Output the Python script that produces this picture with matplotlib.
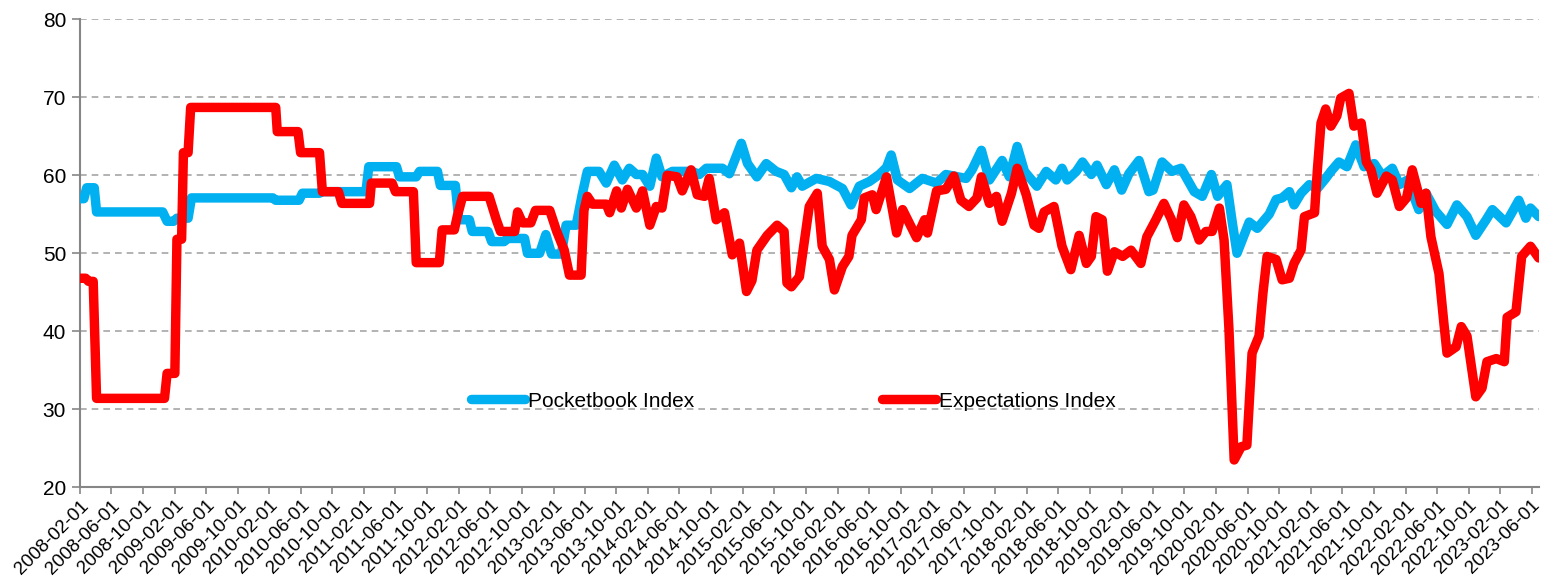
import pandas as pd
import matplotlib.pyplot as plt
import matplotlib.dates as mdates

plt.rcParams['font.family'] = ['Liberation Sans', 'DejaVu Sans']

# Pocketbook Index (breakpoints)
pocket_dates = [
    '2008-02-01', '2008-02-16', '2008-02-27', '2008-03-27', '2008-04-05', '2008-12-16',
    '2009-01-02', '2009-01-27', '2009-02-09', '2009-03-24', '2009-04-06', '2010-02-14',
    '2010-02-25', '2010-05-26', '2010-06-08', '2010-08-13', '2010-08-20', '2011-02-08',
    '2011-02-19', '2011-06-06', '2011-06-17', '2011-08-21', '2011-09-03', '2011-11-11',
    '2011-11-22', '2012-01-19', '2012-02-01', '2012-03-13', '2012-03-24', '2012-05-24',
    '2012-06-07', '2012-07-25', '2012-08-07', '2012-10-12', '2012-10-23', '2012-12-09',
    '2013-01-02', '2013-01-24', '2013-03-03', '2013-03-21', '2013-04-29', '2013-05-22',
    '2013-06-11', '2013-07-26', '2013-08-23', '2013-09-23', '2013-10-24', '2013-11-20',
    '2013-12-17', '2014-01-10', '2014-02-07', '2014-03-04', '2014-03-26', '2014-05-05',
    '2014-07-20', '2014-08-17', '2014-09-13', '2014-11-14', '2014-12-11', '2015-01-26',
    '2015-02-19', '2015-03-27', '2015-05-02', '2015-06-09', '2015-07-10', '2015-08-07',
    '2015-08-29', '2015-09-18', '2015-11-11', '2016-01-01', '2016-02-20', '2016-03-24',
    '2016-04-25', '2016-06-03', '2016-07-11', '2016-08-08', '2016-08-26', '2016-09-19',
    '2016-11-05', '2016-12-24', '2017-02-17', '2017-03-25', '2017-06-11', '2017-07-04',
    '2017-08-09', '2017-09-09', '2017-10-28', '2017-11-25', '2017-12-25', '2018-01-22',
    '2018-03-11', '2018-04-16', '2018-05-23', '2018-06-16', '2018-07-06', '2018-08-10',
    '2018-09-03', '2018-10-07', '2018-10-29', '2018-12-04', '2019-01-04', '2019-02-01',
    '2019-03-01', '2019-04-09', '2019-05-17', '2019-06-02', '2019-07-07', '2019-08-14',
    '2019-09-18', '2019-11-08', '2019-12-09', '2020-01-13', '2020-02-06', '2020-03-13',
    '2020-04-03', '2020-04-21', '2020-06-07', '2020-07-08', '2020-08-23', '2020-09-19',
    '2020-10-12', '2020-11-09', '2020-11-27', '2020-12-24', '2021-01-25', '2021-02-25',
    '2021-03-29', '2021-04-18', '2021-05-19', '2021-06-19', '2021-07-23', '2021-08-24',
    '2021-10-02', '2021-11-03', '2021-12-11', '2022-01-07', '2022-02-08', '2022-03-23',
    '2022-04-20', '2022-05-27', '2022-07-10', '2022-08-17', '2022-09-25', '2022-10-29',
    '2022-12-08', '2023-01-01', '2023-02-23', '2023-04-13', '2023-05-10', '2023-05-28',
    '2023-06-29',
]
pocket_values = [
    57.0, 57.0, 58.4, 58.4, 55.3, 55.3,
    54.1, 54.1, 54.5, 54.5, 57.1, 57.1,
    56.8, 56.8, 57.7, 57.7, 57.9, 57.9,
    61.1, 61.1, 59.8, 59.8, 60.5, 60.5,
    58.7, 58.7, 54.3, 54.3, 52.8, 52.8,
    51.5, 51.5, 51.9, 51.9, 50.0, 50.0,
    52.4, 49.9, 49.9, 53.6, 53.6, 57.5,
    60.5, 60.5, 59.0, 61.3, 59.4, 60.9,
    60.1, 60.1, 58.6, 62.2, 59.8, 60.5,
    60.5, 60.1, 60.9, 60.9, 60.2, 64.1,
    61.5, 59.8, 61.5, 60.5, 60.1, 58.4,
    59.8, 58.6, 59.6, 59.2, 58.3, 56.2,
    58.6, 59.2, 60.1, 61.0, 62.6, 59.4,
    58.3, 59.6, 59.0, 60.1, 59.6, 60.7,
    63.2, 59.4, 61.9, 59.8, 63.7, 60.5,
    58.6, 60.5, 59.4, 60.9, 59.4, 60.5,
    61.7, 60.1, 61.3, 58.8, 60.7, 58.1,
    60.2, 61.9, 57.9, 58.1, 61.7, 60.5,
    60.9, 57.9, 57.3, 60.1, 57.3, 58.8,
    53.9, 50.0, 54.0, 53.2, 55.0, 56.9,
    57.1, 57.9, 56.2, 57.7, 58.8, 58.3,
    59.6, 60.5, 61.7, 61.1, 63.9, 61.1,
    61.5, 59.9, 60.9, 58.8, 59.4, 55.6,
    57.7, 55.4, 53.7, 56.2, 54.7, 52.3,
    54.3, 55.6, 53.9, 56.8, 54.5, 55.8,
    54.7,
]

# Expectations Index
expect_dates = [
    '2008-02-01', '2008-02-23', '2008-03-05', '2008-03-23', '2008-04-05', '2008-12-23',
    '2009-01-02', '2009-02-01', '2009-02-09', '2009-02-27', '2009-03-06', '2009-03-24',
    '2009-04-03', '2010-02-25', '2010-03-03', '2010-05-22', '2010-06-01', '2010-08-13',
    '2010-08-24', '2010-10-25', '2010-11-07', '2011-02-22', '2011-03-01', '2011-05-20',
    '2011-06-02', '2011-08-10', '2011-08-21', '2011-11-18', '2011-11-29', '2012-01-15',
    '2012-01-26', '2012-02-16', '2012-05-28', '2012-06-25', '2012-07-11', '2012-09-04',
    '2012-09-15', '2012-10-04', '2012-11-05', '2012-11-23', '2013-01-17', '2013-02-13',
    '2013-03-14', '2013-04-03', '2013-05-18', '2013-05-29', '2013-06-11', '2013-07-01',
    '2013-08-23', '2013-09-05', '2013-10-02', '2013-10-20', '2013-11-13', '2013-12-17',
    '2014-01-10', '2014-02-07', '2014-03-04', '2014-03-26', '2014-04-15', '2014-05-23',
    '2014-06-12', '2014-07-16', '2014-08-09', '2014-09-06', '2014-09-24', '2014-10-21',
    '2014-11-22', '2014-12-22', '2015-01-19', '2015-02-15', '2015-03-08', '2015-03-27',
    '2015-05-06', '2015-06-13', '2015-07-10', '2015-07-21', '2015-08-07', '2015-09-07',
    '2015-10-15', '2015-11-15', '2015-12-04', '2016-01-01', '2016-01-20', '2016-02-20',
    '2016-03-16', '2016-03-28', '2016-05-03', '2016-05-14', '2016-06-14', '2016-06-29',
    '2016-08-08', '2016-09-16', '2016-10-09', '2016-12-02', '2017-01-02', '2017-01-13',
    '2017-02-17', '2017-03-25', '2017-04-25', '2017-05-22', '2017-06-22', '2017-07-23',
    '2017-08-09', '2017-09-09', '2017-10-06', '2017-10-28', '2017-12-03', '2017-12-25',
    '2018-01-29', '2018-02-28', '2018-03-19', '2018-04-08', '2018-05-16', '2018-06-16',
    '2018-07-20', '2018-08-21', '2018-09-18', '2018-10-07', '2018-10-25', '2018-11-18',
    '2018-12-08', '2019-01-04', '2019-02-05', '2019-03-09', '2019-04-16', '2019-05-09',
    '2019-06-13', '2019-07-14', '2019-08-11', '2019-09-04', '2019-09-29', '2019-10-26',
    '2019-11-27', '2019-12-23', '2020-01-16', '2020-02-13', '2020-03-02', '2020-03-21',
    '2020-04-10', '2020-05-07', '2020-05-29', '2020-06-18', '2020-07-15', '2020-07-30',
    '2020-08-15', '2020-09-19', '2020-10-12', '2020-11-09', '2020-11-27', '2020-12-24',
    '2021-01-06', '2021-02-14', '2021-02-25', '2021-03-11', '2021-03-29', '2021-04-18',
    '2021-05-11', '2021-05-26', '2021-06-27', '2021-07-16', '2021-08-13', '2021-09-02',
    '2021-09-20', '2021-10-13', '2021-11-18', '2021-12-11', '2022-01-07', '2022-02-04',
    '2022-02-26', '2022-04-01', '2022-04-20', '2022-05-09', '2022-06-09', '2022-06-28',
    '2022-07-10', '2022-08-14', '2022-09-03', '2022-09-25', '2022-10-29', '2022-11-22',
    '2022-12-11', '2023-01-16', '2023-02-16', '2023-02-27', '2023-04-02', '2023-04-24',
    '2023-05-28', '2023-06-29',
]
expect_values = [
    46.8, 46.8, 46.4, 46.4, 31.4, 31.4,
    34.6, 34.6, 51.8, 51.8, 62.9, 62.9,
    68.7, 68.7, 65.6, 65.6, 62.9, 62.9,
    57.9, 57.9, 56.4, 56.4, 59.0, 59.0,
    57.9, 57.9, 48.8, 48.8, 53.0, 53.0,
    54.7, 57.3, 57.3, 54.3, 52.8, 52.8,
    55.3, 53.9, 53.9, 55.5, 55.5, 52.8,
    50.4, 47.2, 47.2, 55.5, 57.3, 56.3,
    56.3, 55.2, 58.0, 55.8, 58.2, 55.8,
    58.0, 53.6, 56.0, 55.8, 60.0, 59.8,
    58.0, 60.7, 57.5, 57.3, 59.6, 54.3,
    55.2, 49.8, 51.3, 45.1, 46.5, 50.4,
    52.3, 53.6, 52.8, 46.2, 45.7, 47.0,
    56.0, 57.7, 50.9, 49.2, 45.3, 48.3,
    49.6, 52.3, 54.3, 57.1, 57.5, 55.6,
    59.8, 52.6, 55.6, 52.0, 54.3, 52.6,
    58.0, 58.2, 59.9, 56.8, 56.0, 57.1,
    59.8, 56.4, 57.3, 54.1, 57.7, 60.9,
    57.5, 53.6, 53.2, 55.3, 56.0, 50.9,
    47.9, 52.3, 48.7, 49.6, 54.7, 54.3,
    47.7, 50.2, 49.6, 50.4, 48.7, 52.1,
    54.3, 56.4, 54.4, 52.0, 56.2, 54.7,
    51.7, 52.8, 52.8, 55.8, 51.7, 40.2,
    23.5, 25.2, 25.4, 37.2, 39.4, 44.9,
    49.6, 49.2, 46.6, 46.8, 48.7, 50.4,
    54.7, 55.2, 60.7, 66.7, 68.5, 66.3,
    67.6, 69.9, 70.5, 66.3, 66.7, 61.7,
    60.7, 57.7, 59.9, 59.4, 56.0, 57.1,
    60.7, 56.4, 57.7, 52.1, 47.4, 41.0,
    37.2, 38.0, 40.6, 39.4, 31.6, 32.7,
    36.1, 36.5, 36.1, 41.8, 42.5, 49.6,
    50.9, 49.4,
]

fig = plt.figure(figsize=(15.41, 5.79), dpi=100)
ax = fig.add_axes([0.0519, 0.1584, 0.947, 0.8083])

ax.plot(pd.to_datetime(pocket_dates), pocket_values, color='#00B0F0', linewidth=6.8,
        solid_joinstyle='round', solid_capstyle='round', label='Pocketbook Index', zorder=3)
ax.plot(pd.to_datetime(expect_dates), expect_values, color='#FF0000', linewidth=6.8,
        solid_joinstyle='round', solid_capstyle='round', label='Expectations Index', zorder=4)

ax.set_ylim(20, 80)
ax.set_yticks(range(20, 81, 10))
ax.set_xlim(pd.Timestamp('2008-02-01'), pd.Timestamp('2023-07-01'))
ax.xaxis.set_major_locator(mdates.MonthLocator(bymonth=[2, 6, 10]))
ax.xaxis.set_major_formatter(mdates.DateFormatter('%Y-%m-%d'))
plt.setp(ax.get_xticklabels(), rotation=45, ha='right', rotation_mode='anchor')

ax.grid(axis='y', linestyle=(0, (4, 3)), color='#A6A6A6', linewidth=1.2)
ax.set_axisbelow(True)
for side in ['top', 'right']:
    ax.spines[side].set_visible(False)
for side in ['left', 'bottom']:
    ax.spines[side].set_color('#868686')
    ax.spines[side].set_linewidth(1.5)
ax.tick_params(axis='y', labelsize=15, length=6, width=1.2, color='#868686', pad=4)
ax.tick_params(axis='x', labelsize=13.5, length=5, width=1.2, color='#868686', pad=2)

ax.legend(loc='center', bbox_to_anchor=(0.489, 0.184), ncol=2, frameon=False,
          fontsize=15, handlelength=2.6, handletextpad=0.15, columnspacing=9)

fig.savefig('out.png', dpi=100)
